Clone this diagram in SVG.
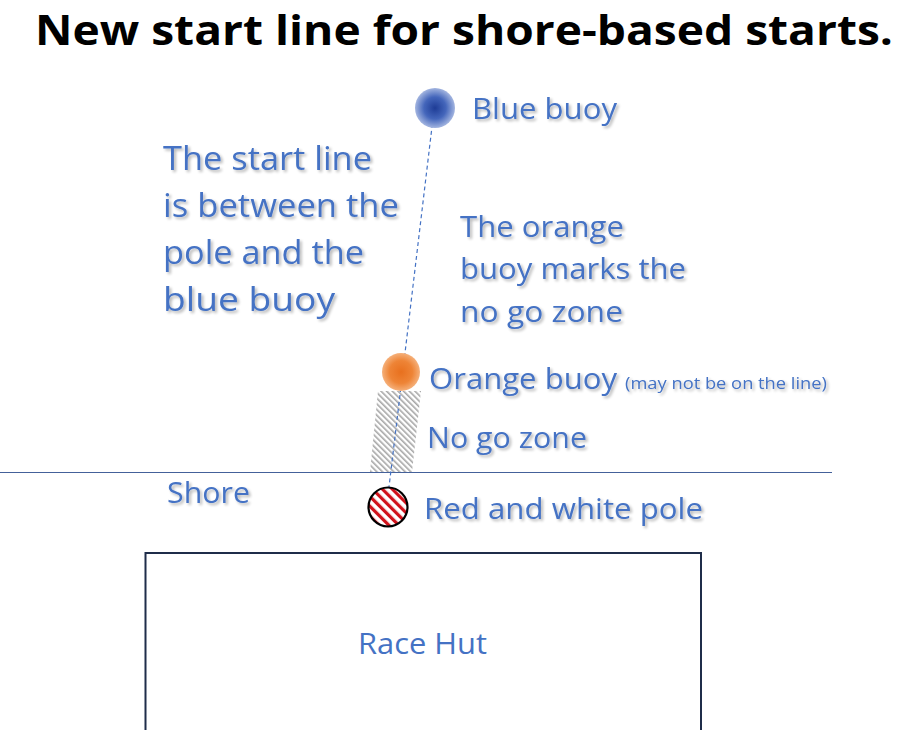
<svg xmlns="http://www.w3.org/2000/svg" width="924" height="730" viewBox="0 0 924 730">
  <defs>
    <style>
      .lbl { font-family: "Open Sans", "Liberation Sans", sans-serif; fill: #4472C4; font-weight: 500; }
      .reg { font-weight: 400; }
      .sh { filter: url(#shadow); }
      .title { font-family: "Open Sans", "Liberation Sans", sans-serif; font-weight: bold; fill: #000; }
    </style>
    <filter id="shadow" x="-10%" y="-30%" width="120%" height="160%">
      <feGaussianBlur in="SourceAlpha" stdDeviation="1.5" result="b"/>
      <feOffset in="b" dx="1.5" dy="2" result="o"/>
      <feComponentTransfer in="o" result="s"><feFuncA type="linear" slope="0.3"/></feComponentTransfer>
      <feMerge><feMergeNode in="s"/><feMergeNode in="SourceGraphic"/></feMerge>
    </filter>
    <radialGradient id="blueG" cx="50%" cy="50%" r="50%">
      <stop offset="0" stop-color="#1E3C96"/>
      <stop offset="0.55" stop-color="#4466BB"/>
      <stop offset="1" stop-color="#A3B5E0"/>
    </radialGradient>
    <radialGradient id="orangeG" cx="50%" cy="50%" r="50%">
      <stop offset="0" stop-color="#E8701E"/>
      <stop offset="0.6" stop-color="#EE8436"/>
      <stop offset="1" stop-color="#F5B07A"/>
    </radialGradient>
    <pattern id="grayHatch" patternUnits="userSpaceOnUse" width="4" height="4" patternTransform="rotate(-45)">
      <rect width="4" height="4" fill="#FFFFFF"/>
      <rect x="0" y="0" width="1.6" height="4" fill="#A6A6A6"/>
    </pattern>
    <pattern id="redHatch" patternUnits="userSpaceOnUse" width="7" height="7" patternTransform="rotate(-45)">
      <rect width="7" height="7" fill="#FFFFFF"/>
      <rect x="0" y="0" width="3.2" height="7" fill="#D0121B"/>
    </pattern>
  </defs>

  <rect width="924" height="730" fill="#FFFFFF"/>

  <g id="title">
    <text class="title" x="35" y="45" font-size="42" textLength="858" lengthAdjust="spacingAndGlyphs">New start line for shore-based starts.</text>
  </g>

  <g id="no-go-zone">
    <polygon points="378,391 421,391 412,472 370,472" fill="url(#grayHatch)"/>
  </g>

  <g id="shore">
    <line x1="0" y1="472.5" x2="832" y2="472.5" stroke="#44619A" stroke-width="1.2"/>
    <text class="lbl sh" x="167" y="503" font-size="29" textLength="83" lengthAdjust="spacingAndGlyphs">Shore</text>
  </g>

  <g id="connectors">
    <line x1="434" y1="110" x2="389" y2="487" stroke="#4472C4" stroke-width="1.2" stroke-dasharray="4 3"/>
  </g>

  <g id="blue-buoy">
    <circle cx="435" cy="108" r="20" fill="url(#blueG)"/>
    <text class="lbl sh" x="472" y="119" font-size="29" textLength="145" lengthAdjust="spacingAndGlyphs">Blue buoy</text>
  </g>

  <g id="orange-buoy">
    <circle cx="401" cy="372" r="19" fill="url(#orangeG)"/>
    <text class="lbl sh" x="429" y="389" font-size="29" textLength="188" lengthAdjust="spacingAndGlyphs">Orange buoy</text>
    <text class="lbl sh" x="625" y="389" font-size="17" textLength="202" lengthAdjust="spacingAndGlyphs">(may not be on the line)</text>
  </g>

  <g id="no-go-label">
    <text class="lbl sh" x="427" y="448" font-size="29" textLength="160" lengthAdjust="spacingAndGlyphs">No go zone</text>
  </g>

  <g id="pole">
    <circle cx="388" cy="507" r="19.5" fill="url(#redHatch)" stroke="#000" stroke-width="2.2"/>
    <text class="lbl sh" x="424" y="519" font-size="29" textLength="279" lengthAdjust="spacingAndGlyphs">Red and white pole</text>
  </g>

  <g id="start-line-note">
    <text class="lbl sh" x="163" y="170" font-size="32" textLength="209" lengthAdjust="spacingAndGlyphs">The start line</text>
    <text class="lbl sh" x="163" y="217" font-size="32" textLength="236" lengthAdjust="spacingAndGlyphs">is between the</text>
    <text class="lbl sh" x="163" y="264" font-size="32" textLength="201" lengthAdjust="spacingAndGlyphs">pole and the</text>
    <text class="lbl sh" x="163" y="311" font-size="32" textLength="172" lengthAdjust="spacingAndGlyphs">blue buoy</text>
  </g>

  <g id="orange-note">
    <text class="lbl sh" x="460" y="237" font-size="29" textLength="164" lengthAdjust="spacingAndGlyphs">The orange</text>
    <text class="lbl sh" x="460" y="279" font-size="29" textLength="226" lengthAdjust="spacingAndGlyphs">buoy marks the</text>
    <text class="lbl sh" x="460" y="322" font-size="29" textLength="163" lengthAdjust="spacingAndGlyphs">no go zone</text>
  </g>

  <g id="race-hut">
    <rect x="145.5" y="553" width="555.5" height="190" fill="#FFFFFF" stroke="#1F2D4A" stroke-width="2"/>
    <text class="lbl reg" x="358" y="654" font-size="29" textLength="129" lengthAdjust="spacingAndGlyphs">Race Hut</text>
  </g>
</svg>
